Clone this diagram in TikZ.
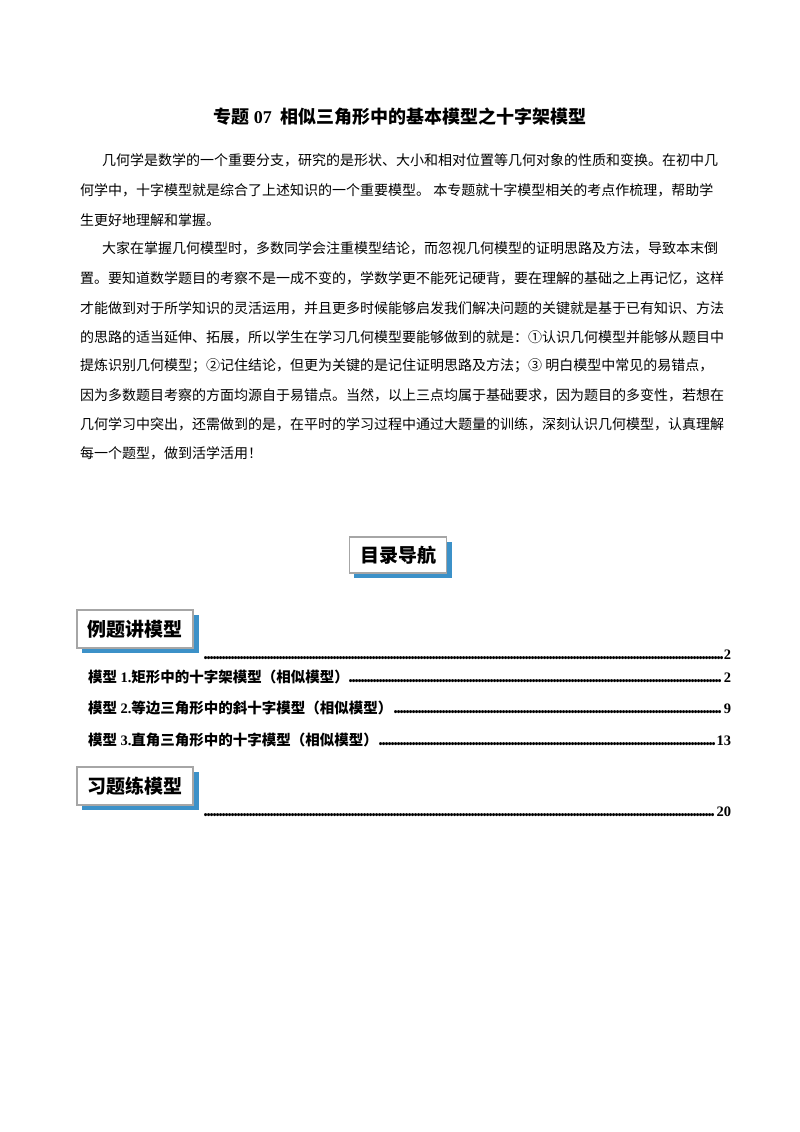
\documentclass[tikz,border=0pt]{standalone}
\usepackage{fontspec}
\setmainfont{Noto Sans CJK SC}
\newfontfamily\latin{Liberation Serif}
\newcommand\tdots{\leaders\hbox to 3pt{\hss.\hss}\hfill}
\begin{document}
\begin{tikzpicture}[x=1pt,y=-1pt,
  ln/.style={anchor=west,inner sep=0pt,font=\fontsize{14}{14}\selectfont},
  toc/.style={anchor=west,inner sep=0pt,font=\fontsize{14.5}{15}\selectfont\bfseries},
  tbox/.style={draw=gray!70,line width=1.2pt,fill=white,inner sep=0pt,font=\fontsize{19}{19}\selectfont\bfseries}]
\definecolor{shad}{RGB}{60,145,200}
\useasboundingbox (0,0) rectangle (800,1132);
\fill[white] (0,0) rectangle (800,1132);
\node[inner sep=0pt,font=\fontsize{18}{18}\selectfont\bfseries] (title) at (400,117) {专题 {\latin 07}\ \ 相似三角形中的基本模型之十字架模型};
\node[ln] (p1) at (102,160) {几何学是数学的一个重要分支，研究的是形状、大小和相对位置等几何对象的性质和变换。在初中几};
\node[ln] (p2) at (80,190) {何学中，十字模型就是综合了上述知识的一个重要模型。 本专题就十字模型相关的考点作梳理，帮助学};
\node[ln] (p3) at (80,220) {生更好地理解和掌握。};
\node[ln] (q1) at (102,248) {大家在掌握几何模型时，多数同学会注重模型结论，而忽视几何模型的证明思路及方法，导致本末倒};
\node[ln] (q2) at (80,278) {置。要知道数学题目的考察不是一成不变的，学数学更不能死记硬背，要在理解的基础之上再记忆，这样};
\node[ln] (q3) at (80,308) {才能做到对于所学知识的灵活运用，并且更多时候能够启发我们解决问题的关键就是基于已有知识、方法};
\node[ln] (q4) at (80,337) {的思路的适当延伸、拓展，所以学生在学习几何模型要能够做到的就是：①认识几何模型并能够从题目中};
\node[ln] (q5) at (80,366) {提炼识别几何模型；②记住结论，但更为关键的是记住证明思路及方法；③ 明白模型中常见的易错点，};
\node[ln] (q6) at (80,395) {因为多数题目考察的方面均源自于易错点。当然，以上三点均属于基础要求，因为题目的多变性，若想在};
\node[ln] (q7) at (80,424) {几何学习中突出，还需做到的是，在平时的学习过程中通过大题量的训练，深刻认识几何模型，认真理解};
\node[ln] (q8) at (80,453) {每一个题型，做到活学活用！};
% boxes
\fill[shad] (354,542) rectangle (452,578);
\node[tbox,minimum width=97pt,minimum height=36pt] (b0) at (398,555) {目录导航};
\fill[shad] (82,615) rectangle (199,653);
\node[tbox,minimum width=116pt,minimum height=38pt] (b1) at (135,629) {例题讲模型};
\fill[shad] (82,772) rectangle (199,810);
\node[tbox,minimum width=116pt,minimum height=38pt] (b2) at (135,786) {习题练模型};
% toc
\node[toc] (t0) at (204,655) {\makebox[527pt]{\tdots{\latin 2}}};
\node[toc] (t1) at (88,677) {\makebox[643pt]{模型 {\latin 1.}矩形中的十字架模型（相似模型）\tdots{\latin 2}}};
\node[toc] (t2) at (88,708) {\makebox[643pt]{模型 {\latin 2.}等边三角形中的斜十字模型（相似模型）\tdots{\latin 9}}};
\node[toc] (t3) at (88,740) {\makebox[643pt]{模型 {\latin 3.}直角三角形中的十字模型（相似模型）\tdots{\latin 13}}};
\node[toc] (t4) at (204,812) {\makebox[527pt]{\tdots{\latin 20}}};
\end{tikzpicture}
\end{document}
